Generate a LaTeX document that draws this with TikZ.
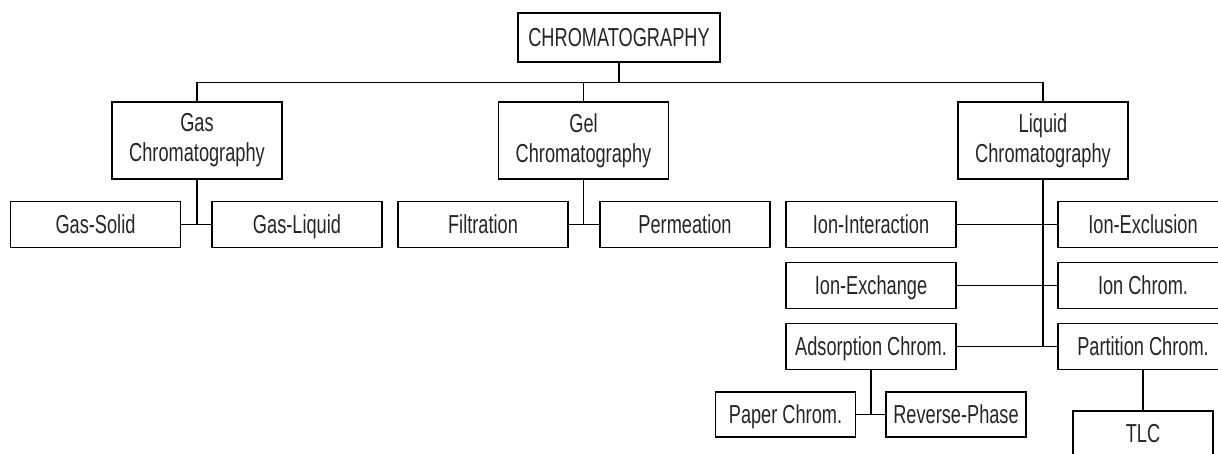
\documentclass[tikz,border=0pt]{standalone}
\usepackage{fontspec}
\setmainfont{Liberation Sans}[FakeStretch=0.7]
\usepackage{tikz}
\tikzstyle{basebox} = [rectangle, inner sep=0pt, text centered, draw=black, line width=1.2pt, fill=white, text=black!85, font=\fontsize{26}{30}\selectfont]
\tikzstyle{onebox} = [basebox, minimum width=170pt, minimum height=46pt, text height=18.6pt, text depth=0pt]
\tikzstyle{twobox} = [basebox, minimum width=170pt, minimum height=77pt, align=center]
\tikzstyle{topbox} = [onebox, minimum width=202pt, minimum height=49pt]
\tikzstyle{smallbox} = [onebox, minimum width=140pt, minimum height=45pt]
\tikzstyle{line} = [line width=1.2pt]

\begin{document}
\begin{tikzpicture}[node distance=84pt]
		\useasboundingbox (0,0) rectangle (1218pt,-453pt);
		\clip (0,0) rectangle (1218pt,-453pt);
		\node (chrom) [topbox] at (619pt,-37.5pt) {CHROMATOGRAPHY};
		\node (gas) [twobox, below of=chrom, xshift=-422pt, yshift=-19pt] {Gas\\Chromatography};
		\node (gel) [twobox, below of=chrom, xshift=-35.5pt, yshift=-19pt] {Gel\\Chromatography};
		\node (liquid) [twobox, below of=chrom, xshift=424pt, yshift=-19pt] {Liquid\\Chromatography};
		
		\node (gassolid) [onebox, below of=gas, xshift=-101.5pt] {Gas-Solid};
		\node (gasliquid) [onebox, below of=gas, xshift=100pt] {Gas-Liquid};
		\node (filtration) [onebox, below of=gel, xshift=-100.5pt] {Filtration};
		\node (permeation) [onebox, below of=gel, xshift=101.5pt] {Permeation};
		
		\node (ioninter) [onebox, below of=liquid, xshift=-172pt] {Ion-Interaction};
		\node (ionexcl) [onebox, below of=liquid, xshift=100pt] {Ion-Exclusion};
		\node (ionexch) [onebox, below of=ioninter, yshift=23pt] {Ion-Exchange};
		\node (ionchrom) [onebox, below of=ionexcl, yshift=23pt] {Ion Chrom.};
		\node (adsorp) [onebox, below of=ionexch, yshift=23pt] {Adsorption Chrom.};
		\node (partit) [onebox, below of=ionchrom, yshift=23pt] {Partition Chrom.};
		\node (paper) [smallbox, below of=adsorp, xshift=-85.5pt, yshift=16pt] {Paper Chrom.};
		\node (reverse) [smallbox, below of=adsorp, xshift=85pt, yshift=16pt] {Reverse-Phase};
		\node (tlc) [smallbox, below of=partit, yshift=-3pt] {TLC};
		
		\draw [line] (chrom.south) -- ++(0,-20pt) coordinate (bus);
		\draw [line] (gas.north) |- (bus) -| (liquid.north);
		\draw [line] (gel.north) -- (gel.north |- bus);
		
		\draw [line] (gas.south) -- (gas.south |- gassolid.east);
		\draw [line] (gassolid) -- (gasliquid);
		\draw [line] (gel.south) -- (gel.south |- filtration.east);
		\draw [line] (filtration) -- (permeation);
		
		\draw [line] (liquid.south) -- (liquid.south |- partit.west);
		\draw [line] (ioninter) -- (ionexcl);
		\draw [line] (ionexch) -- (ionchrom);
		\draw [line] (adsorp) -- (partit);
		\draw [line] (adsorp.south) -- (adsorp.south |- paper.east);
		\draw [line] (paper) -- (reverse);
		\draw [line] (partit) -- (tlc);
		\end{tikzpicture}
\end{document}
